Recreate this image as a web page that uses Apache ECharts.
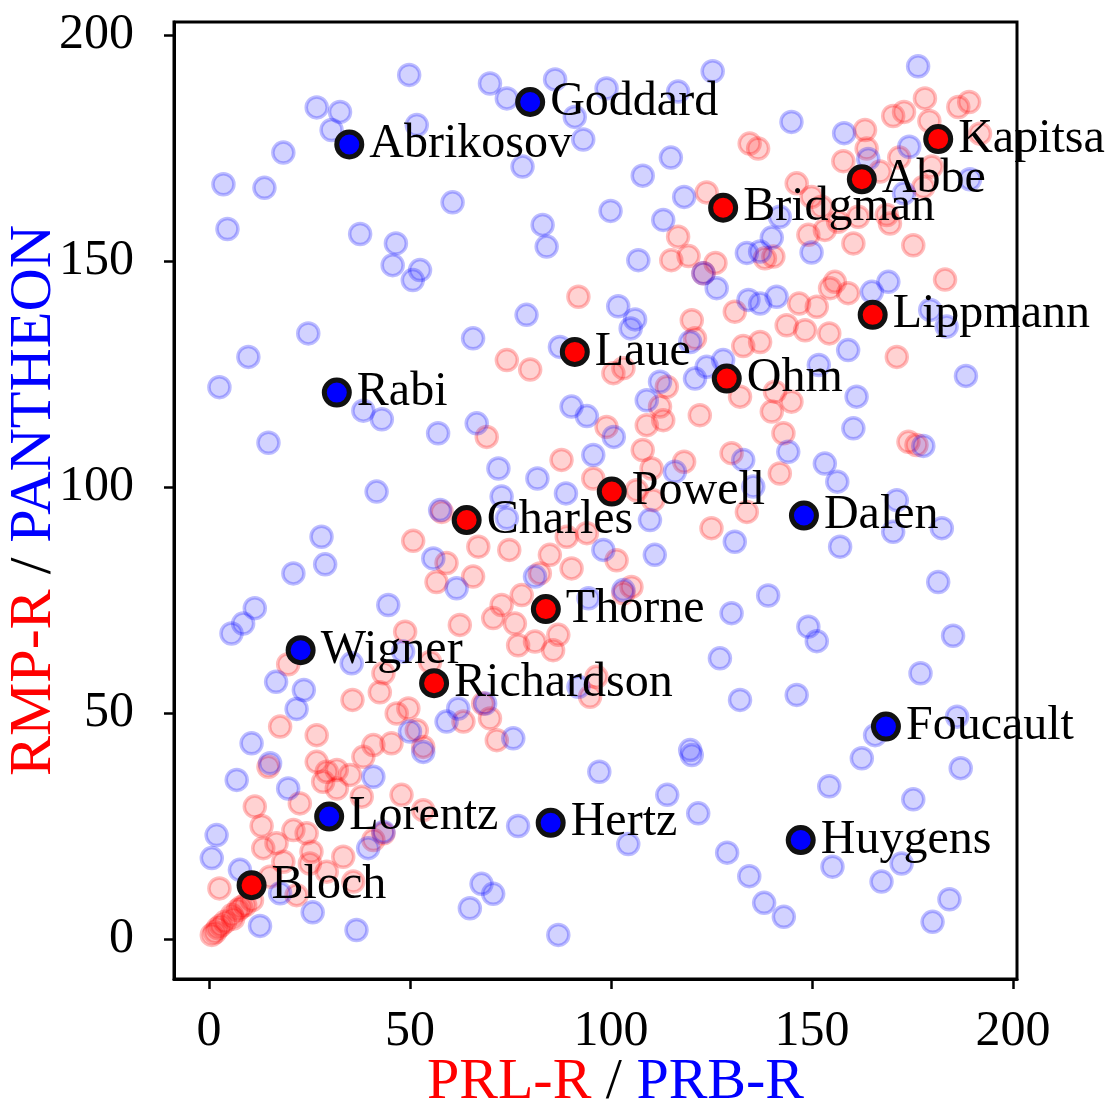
<!DOCTYPE html>
<html>
<head>
<meta charset="utf-8">
<script src="https://cdn.jsdelivr.net/npm/echarts@6/dist/echarts.min.js"></script>
<style>
  html, body { margin: 0; padding: 0; background: #fff; }
  #chart { width: 1111px; height: 1104px; }
</style>
</head>
<body>
<div id="chart"></div>
<script>
// ── Data ────────────────────────────────────────────────────────────────
// faded background points, [x, y]
const prbPoints = [
  [49.8,191.2],[26.8,184.0],[32.6,183.0],[30.5,179.0],[51.7,180.1],[18.5,174.0],[3.6,167.0],[13.8,166.2],
  [60.6,163.0],[4.6,157.1],[37.6,156.0],[46.5,153.9],[45.7,149.1],[52.5,148.0],[50.7,145.8],[69.9,189.3],
  [74.1,186.0],[86.1,190.2],[98.9,188.2],[116.7,187.5],[125.3,192.0],[91.0,181.9],[93.1,176.9],[78.0,170.9],
  [114.9,172.9],[107.9,168.9],[118.2,164.2],[99.9,161.1],[113.0,159.1],[83.0,158.0],[84.0,153.2],[106.8,150.2],
  [133.8,151.8],[176.4,193.1],[144.9,180.8],[158.0,178.3],[174.2,175.3],[164.0,172.6],[189.3,168.1],[172.9,165.0],
  [142.0,159.8],[140.0,155.2],[149.9,151.9],[137.1,152.1],[24.7,134.0],[9.8,128.8],[2.6,122.1],[38.4,116.9],
  [43.0,115.0],[57.0,111.9],[14.8,109.8],[41.7,99.0],[79.0,138.1],[65.7,132.9],[101.8,140.0],[106.0,137.1],
  [104.9,135.1],[87.3,131.0],[119.7,132.1],[126.3,144.0],[123.8,126.6],[120.9,124.0],[127.9,128.1],[112.2,123.3],
  [108.9,119.2],[90.2,117.8],[94.0,115.7],[66.6,114.1],[100.7,111.1],[95.6,107.1],[115.9,103.4],[132.9,106.0],
  [72.0,104.1],[81.7,101.9],[88.8,98.6],[72.8,97.9],[134.2,141.4],[123.0,147.3],[169.0,145.4],[164.9,143.2],
  [141.2,142.1],[137.1,140.6],[179.4,139.2],[183.5,135.5],[159.0,130.3],[151.7,127.0],[188.3,124.6],[161.1,120.0],
  [160.3,113.0],[144.1,107.8],[153.2,105.2],[156.3,101.2],[177.7,109.1],[171.1,97.1],[135.4,100.1],[28.0,89.0],
  [28.9,82.9],[21.0,80.9],[11.4,73.2],[8.5,69.8],[5.6,67.6],[44.6,73.9],[55.8,84.2],[57.5,94.9],
  [35.5,61.0],[16.7,56.9],[23.6,55.1],[21.8,50.9],[10.6,43.3],[48.3,63.6],[59.1,48.1],[50.0,45.9],
  [61.6,77.6],[62.0,51.0],[74.1,93.1],[109.7,92.7],[130.8,87.9],[110.9,85.0],[98.1,86.1],[81.1,80.2],
  [103.1,77.2],[94.4,75.4],[130.0,72.1],[127.1,62.1],[132.1,52.9],[91.9,55.8],[68.7,52.1],[75.7,44.4],
  [119.7,41.8],[157.0,86.8],[170.2,90.1],[182.3,90.9],[181.4,79.0],[139.1,76.0],[149.1,69.1],[151.2,65.9],
  [185.1,67.1],[177.0,58.8],[146.2,54.0],[186.1,49.2],[165.7,45.1],[15.2,38.9],[6.9,35.2],[19.7,33.3],
  [40.9,35.9],[53.3,41.4],[1.9,23.0],[0.7,17.9],[7.7,15.3],[39.6,20.1],[43.4,23.7],[17.7,10.1],
  [25.8,5.9],[12.7,2.9],[36.7,2.0],[97.1,37.0],[114.0,31.9],[120.1,40.7],[121.7,27.8],[76.9,25.0],
  [104.3,21.0],[128.9,19.1],[134.4,13.9],[67.8,12.2],[70.7,10.0],[64.9,6.8],[86.9,0.9],[162.4,40.0],
  [187.0,37.8],[154.3,33.8],[175.2,30.9],[155.1,16.0],[172.3,16.7],[167.3,12.7],[138.1,8.0],[143.0,4.9],
  [184.2,8.8],[180.0,3.8]
];
const prlPoints = [
  [134.5,176.0],[136.6,174.9],[123.8,165.2],[116.7,155.4],[119.3,151.1],[115.0,150.2],[126.0,149.6],[178.1,186.0],
  [170.2,182.1],[172.9,183.0],[179.2,181.0],[186.4,184.1],[189.1,185.2],[191.8,178.2],[163.2,179.0],[163.6,174.9],
  [157.8,172.1],[171.7,172.9],[179.8,170.9],[166.9,169.8],[146.2,167.2],[149.9,164.2],[152.4,162.0],[177.7,166.4],
  [161.5,159.8],[168.6,160.2],[169.4,158.3],[153.2,156.9],[156.5,158.7],[149.1,155.8],[160.3,153.9],[175.2,153.5],
  [138.3,150.6],[140.4,151.0],[57.9,94.5],[91.9,142.1],[123.0,147.3],[130.8,138.8],[120.1,136.9],[120.9,132.9],
  [132.9,131.2],[74.1,128.1],[79.9,126.0],[100.6,125.2],[103.1,126.3],[113.9,122.2],[112.2,117.8],[108.9,113.7],
  [113.0,114.8],[122.1,115.9],[98.9,113.3],[132.1,120.0],[69.1,111.1],[107.9,108.2],[87.7,106.0],[110.1,104.1],
  [118.2,105.6],[130.0,107.5],[95.6,101.9],[106.4,99.3],[110.5,97.1],[183.1,145.9],[155.7,145.4],[159.0,142.9],
  [154.5,144.0],[146.8,140.6],[151.2,139.9],[143.7,135.8],[148.3,134.7],[154.3,134.0],[137.1,132.1],[171.1,128.8],
  [140.8,121.1],[144.9,118.9],[140.0,116.7],[142.9,111.9],[142.0,103.0],[174.0,110.0],[176.0,109.3],[50.8,88.1],
  [56.6,79.0],[48.8,68.0],[19.7,60.8],[43.4,58.8],[42.5,54.6],[35.7,52.9],[46.7,49.9],[49.6,51.0],
  [51.7,46.2],[17.7,47.0],[26.8,45.1],[40.9,42.9],[45.4,43.3],[53.3,42.5],[55.0,61.3],[59.1,83.2],
  [62.4,69.5],[67.0,86.8],[74.7,86.1],[84.8,85.0],[89.0,89.0],[94.0,89.8],[90.2,82.0],[82.3,80.9],
  [65.7,80.2],[77.8,76.1],[72.8,73.9],[70.7,71.0],[76.1,69.8],[76.9,65.0],[81.1,65.8],[86.9,67.3],
  [85.6,63.9],[101.4,83.8],[105.1,77.9],[103.1,76.5],[125.0,90.9],[133.8,94.5],[96.4,58.0],[94.8,53.6],
  [68.2,52.1],[69.9,48.8],[71.6,44.0],[63.3,48.1],[14.8,38.1],[26.8,39.2],[29.3,37.0],[31.8,37.4],
  [35.1,36.3],[28.4,34.8],[31.8,33.3],[38.4,40.3],[38.0,31.5],[47.9,31.9],[11.4,29.3],[22.6,30.0],
  [53.3,28.5],[13.1,25.0],[21.0,24.1],[24.3,23.4],[16.8,21.2],[13.5,20.1],[18.5,17.1],[25.5,19.3],
  [25.1,16.7],[33.4,18.2],[29.3,14.9],[40.9,21.9],[43.4,23.4],[15.2,13.8],[35.9,12.7],[21.8,9.7],
  [2.6,11.2],[0.7,0.9],[1.5,1.5],[2.2,2.4],[3.0,3.0],[4.0,3.8],[5.7,5.3],[6.0,4.5],
  [7.2,6.4],[8.0,7.0],[9.0,7.5],[10.7,8.6]
];

// highlighted physicists
const prbNames = ['Goddard', 'Abrikosov', 'Rabi', 'Dalen', 'Wigner', 'Foucault', 'Lorentz', 'Hertz', 'Huygens'];
const prbHighlight = [[79.9,185.2],[34.9,175.8],[31.8,120.9],[148.0,93.7],[22.8,63.9],[168.4,47.0],[29.9,27.1],[85.0,25.7],[147.2,21.9]];
const prlNames = ['Kapitsa', 'Abbe', 'Bridgman', 'Lippmann', 'Laue', 'Ohm', 'Powell', 'Charles', 'Thorne', 'Richardson', 'Bloch'];
const prlHighlight = [[181.4,177.0],[162.4,168.1],[127.9,161.8],[165.1,138.1],[91.0,129.9],[128.8,124.0],[100.2,99.0],[64.1,92.7],[83.8,73.0],[56.0,56.6],[10.6,11.9]];

const tickValues = [0, 50, 100, 150, 200];

// ── Style ───────────────────────────────────────────────────────────────
const fontFamily = '"Liberation Serif", "Times New Roman", serif';
const red = '#ff0000';
const blue = '#0000ff';

const faded = (pts, rgb, z) => ({
  type: 'scatter',
  data: pts,
  symbolSize: 21,
  z: z,
  itemStyle: { color: 'rgba(' + rgb + ',0.22)', borderColor: 'rgba(' + rgb + ',0.32)', borderWidth: 3.5 },
  emphasis: { disabled: true },
});

const highlighted = (names, pts, color) => ({
  type: 'scatter',
  data: names.map((n, i) => ({ name: n, value: pts[i] })),
  symbolSize: 25,
  z: 10,
  itemStyle: { color: color, borderColor: '#111', borderWidth: 5, opacity: 1 },
  label: {
    show: true, position: 'right', distance: 5, formatter: '{b}',
    fontFamily: fontFamily, fontSize: 48, color: '#000',
  },
  emphasis: { disabled: true },
});

const axisCommon = {
  type: 'value',
  axisLine: { show: true, onZero: false, lineStyle: { color: '#000', width: 3 } },
  axisTick: { show: true, inside: false, length: 10, lineStyle: { color: '#000', width: 2.5 }, customValues: tickValues },
  axisLabel: { fontFamily: fontFamily, fontSize: 50, color: '#000', customValues: tickValues },
  splitLine: { show: false },
  nameMoveOverlap: false,
};

const chart = echarts.init(document.getElementById('chart'), null, { renderer: 'canvas' });
chart.setOption({
  animation: false,
  backgroundColor: '#fff',
  grid: {
    left: 174, right: 94, top: 22, bottom: 125,
    show: true, borderColor: '#000', borderWidth: 3,
    containLabel: false, outerBoundsMode: 'none',
  },
  xAxis: Object.assign({}, axisCommon, {
    min: -8.7, max: 201,
    axisLabel: Object.assign({}, axisCommon.axisLabel, { margin: 28 }),
    name: '{r|PRL-R} / {b|PRB-R}',
    nameLocation: 'middle', nameGap: 75,
    nameTextStyle: {
      fontFamily: fontFamily, fontSize: 58, color: '#000', padding: [0, 0, 0, 40],
      rich: {
        r: { color: red, fontFamily: fontFamily, fontSize: 58 },
        b: { color: blue, fontFamily: fontFamily, fontSize: 58 },
      },
    },
  }),
  yAxis: Object.assign({}, axisCommon, {
    min: -8.85, max: 202.9,
    axisLabel: Object.assign({}, axisCommon.axisLabel, { margin: 40 }),
    name: '{r|RMP-R} / {b|PANTHEON}',
    nameLocation: 'middle', nameGap: 110, nameRotate: 90,
    nameTextStyle: {
      fontFamily: fontFamily, fontSize: 60, color: '#000',
      rich: {
        r: { color: red, fontFamily: fontFamily, fontSize: 60 },
        b: { color: blue, fontFamily: fontFamily, fontSize: 60 },
      },
    },
  }),
  series: [
    faded(prlPoints, '255,0,0', 2),
    faded(prbPoints, '0,0,255', 3),
    highlighted(prbNames, prbHighlight, blue),
    highlighted(prlNames, prlHighlight, red),
  ],
});
window.addEventListener('resize', () => chart.resize());
</script>
</body>
</html>
